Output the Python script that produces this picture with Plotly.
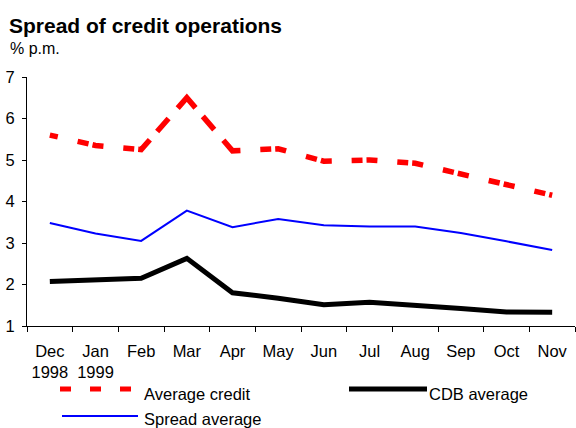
import math
import plotly.graph_objects as go

# Monthly values, % per month
months = ["Dec<br>1998", "Jan<br>1999", "Feb", "Mar", "Apr", "May",
          "Jun", "Jul", "Aug", "Sep", "Oct", "Nov"]
average_credit = [5.60, 5.35, 5.25, 6.50, 5.22, 5.27, 4.97, 5.00, 4.92, 4.67, 4.39, 4.15]
spread_average = [3.48, 3.23, 3.05, 3.78, 3.38, 3.58, 3.43, 3.40, 3.40, 3.24, 3.04, 2.83]
cdb_average = [2.07, 2.10, 2.15, 2.63, 1.80, 1.67, 1.51, 1.57, 1.48, 1.42, 1.34, 1.33]
y_ticks = [1, 2, 3, 4, 5, 6, 7]

FONT = "Liberation Sans, Arial, sans-serif"
TXT = 16.5
W, H = 576, 428
ML, MR, MT, MB = 27, 1, 77, 102
PW, PH = W - ML - MR, H - MT - MB
Y_RANGE = (1, 7)


def px(x):
    """Pixel x -> paper x."""
    return (x - ML) / PW


def py(y):
    """Pixel y (from top) -> paper y."""
    return (H - MB - y) / PH


def segment_dash(values):
    """Dash pattern that restarts on every segment, so each vertex sits on a dash."""
    sx = PW / len(values)
    sy = PH / (Y_RANGE[1] - Y_RANGE[0])
    parts = []
    for a, b in zip(values[:-1], values[1:]):
        length = math.hypot(sx, (b - a) * sy)
        if length / sx > 1.3:
            fr = [0.19, 0.16, 0.25, 0.20, 0.20]
        else:
            fr = [8 / 46, 20 / 46, 11 / 46, 4 / 46, 3 / 46]
        seg = [f * length for f in fr]
        if parts:
            parts[-1] += seg[0]
            parts.extend(seg[1:])
        else:
            parts.extend(seg)
    parts.append(2000)
    return ",".join(f"{p:.2f}px" for p in parts)


fig = go.Figure()
fig.add_trace(go.Scatter(x=months, y=average_credit, mode="lines", name="Average credit",
                         line=dict(color="#FF0000", width=5.5, dash=segment_dash(average_credit))))
fig.add_trace(go.Scatter(x=months, y=spread_average, mode="lines", name="Spread average",
                         line=dict(color="#0000FF", width=2)))
fig.add_trace(go.Scatter(x=months, y=cdb_average, mode="lines", name="CDB average",
                         line=dict(color="#000000", width=5)))

# Legend drawn below the axis
legend_items = [
    dict(name="Average credit", color="#FF0000", width=5, dash="11px,19px", x0=60, x1=132, y=389, tx=142, ty=394),
    dict(name="CDB average", color="#000000", width=5, dash="solid", x0=349, x1=427, y=389, tx=427, ty=394),
    dict(name="Spread average", color="#0000FF", width=2, dash="solid", x0=62, x1=138, y=416, tx=142, ty=419),
]
shapes = []
annotations = []
for it in legend_items:
    shapes.append(dict(type="line", xref="paper", yref="paper",
                       x0=px(it["x0"]), x1=px(it["x1"]), y0=py(it["y"]), y1=py(it["y"]),
                       line=dict(color=it["color"], width=it["width"], dash=it["dash"])))
    annotations.append(dict(text=it["name"], xref="paper", yref="paper",
                            x=px(it["tx"]), y=py(it["ty"]), xanchor="left", yanchor="middle",
                            showarrow=False, font=dict(family=FONT, size=TXT, color="#000000")))

annotations.append(dict(text="% p.m.", xref="paper", yref="paper",
                        x=px(8), y=py(48.5), xanchor="left", yanchor="middle",
                        showarrow=False, font=dict(family=FONT, size=16, color="#000000")))

fig.update_layout(
    width=W, height=H,
    margin=dict(l=ML, r=MR, t=MT, b=MB),
    paper_bgcolor="white", plot_bgcolor="white",
    showlegend=False,
    font=dict(family=FONT, size=TXT, color="#000000"),
    title=dict(text="<b>Spread of credit operations</b>", xref="container", yref="container",
               x=9 / W, y=1 - 25.5 / H, xanchor="left", yanchor="middle",
               font=dict(family=FONT, size=21, color="#000000")),
    shapes=shapes,
    annotations=annotations,
)
fig.update_xaxes(type="category", range=[-0.5, len(months) - 0.5],
                 showline=True, linecolor="#000000", linewidth=1,
                 ticks="outside", ticklen=5, tickcolor="#000000", tickson="boundaries",
                 showgrid=False, zeroline=False, ticklabelstandoff=10, tickangle=0,
                 tickfont=dict(family=FONT, size=TXT, color="#000000"))
fig.update_yaxes(range=list(Y_RANGE), tickvals=y_ticks,
                 showline=True, linecolor="#000000", linewidth=1,
                 ticks="outside", ticklen=4, tickcolor="#000000",
                 showgrid=False, zeroline=False, ticklabelstandoff=4,
                 tickfont=dict(family=FONT, size=TXT, color="#000000"))

fig.write_html("out.html")
